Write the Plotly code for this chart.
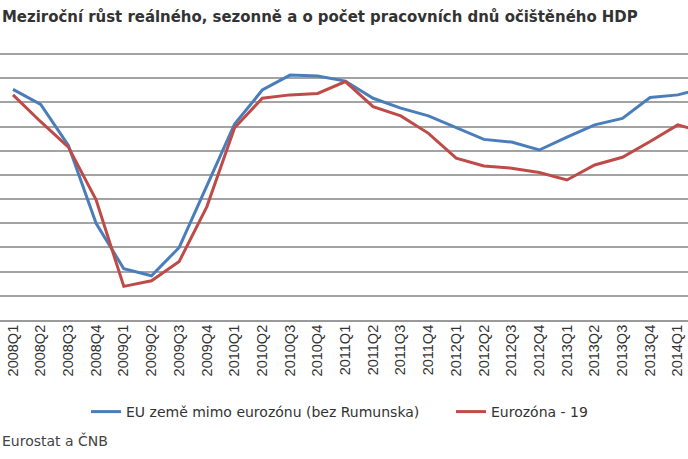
import plotly.graph_objects as go

quarters = ["2008Q1", "2008Q2", "2008Q3", "2008Q4", "2009Q1", "2009Q2", "2009Q3", "2009Q4",
            "2010Q1", "2010Q2", "2010Q3", "2010Q4", "2011Q1", "2011Q2", "2011Q3", "2011Q4",
            "2012Q1", "2012Q2", "2012Q3", "2012Q4", "2013Q1", "2013Q2", "2013Q3", "2013Q4",
            "2014Q1", "2014Q2"]

eu_non_euro = [2.54, 1.92, 0.22, -3.0, -4.88, -5.17, -4.0, -1.45, 1.1, 2.51, 3.13, 3.09, 2.88,
               2.17, 1.76, 1.44, 0.97, 0.47, 0.36, 0.03, 0.56, 1.07, 1.34, 2.2, 2.31, 2.6]
eurozone_19 = [2.31, 1.2, 0.15, -2.03, -5.61, -5.38, -4.58, -2.31, 0.95, 2.17, 2.31, 2.37, 2.86,
               1.82, 1.44, 0.72, -0.31, -0.63, -0.72, -0.9, -1.21, -0.59, -0.27, 0.38, 1.07, 0.75]

names = ["EU země mimo eurozónu (bez Rumunska)", "Eurozóna - 19"]
colors = ["#4a7ebb", "#be4b48"]
legends = ["legend", "legend2"]

fig = go.Figure()
for name, vals, col, lg in zip(names, [eu_non_euro, eurozone_19], colors, legends):
    fig.add_trace(go.Scatter(x=quarters, y=vals, mode="lines", name=name, legend=lg,
                             line=dict(color=col, width=3)))

plot_h = 459 - 139 - 52
legend_font = dict(family="DejaVu Sans", size=14, color="#333333")
leg_y = (plot_h - (396 - 52)) / plot_h

fig.update_layout(
    width=688, height=459,
    margin=dict(l=0, r=0, t=52, b=139, autoexpand=False),
    paper_bgcolor="white", plot_bgcolor="white",
    xaxis=dict(type="category", range=[-0.469, 24.369], tickangle=-90, automargin=False,
               showgrid=False, showline=True, linecolor="#9a9a9a", linewidth=2,
               ticks="", ticklabelstandoff=-3,
               tickfont=dict(family="Liberation Sans, Arial", size=14.5, color="#333333"),
               fixedrange=True),
    yaxis=dict(range=[-7, -7 + plot_h / 24.18], dtick=1, tick0=0, showticklabels=False,
               showgrid=True, automargin=False,
               gridcolor="#a3a3a3", gridwidth=1.6, zeroline=False, showline=False,
               ticks=""),
    showlegend=True,
    legend=dict(orientation="h", x=0.125, xanchor="left", y=leg_y, yanchor="top",
                font=legend_font, bgcolor="rgba(0,0,0,0)"),
    legend2=dict(orientation="h", x=451 / 688, xanchor="left", y=leg_y, yanchor="top",
                 font=legend_font, bgcolor="rgba(0,0,0,0)"),
    annotations=[
        dict(text="<b>Meziroční růst reálného, sezonně a o počet pracovních dnů očištěného HDP</b>",
             x=0, xref="paper", xanchor="left", y=1 + (52 - 17) / plot_h, yref="paper",
             yanchor="middle", showarrow=False,
             font=dict(family="DejaVu Sans Condensed, DejaVu Sans", size=16.6, color="#333333")),
        dict(text="Eurostat a ČNB", x=0, xref="paper", xanchor="left",
             y=(plot_h - (440 - 52)) / plot_h, yref="paper", yanchor="middle", showarrow=False,
             font=dict(family="DejaVu Sans", size=14, color="#444444")),
    ],
)

fig.write_html("out.html", config={"displayModeBar": False},
               post_script="document.body.style.margin='0';")
